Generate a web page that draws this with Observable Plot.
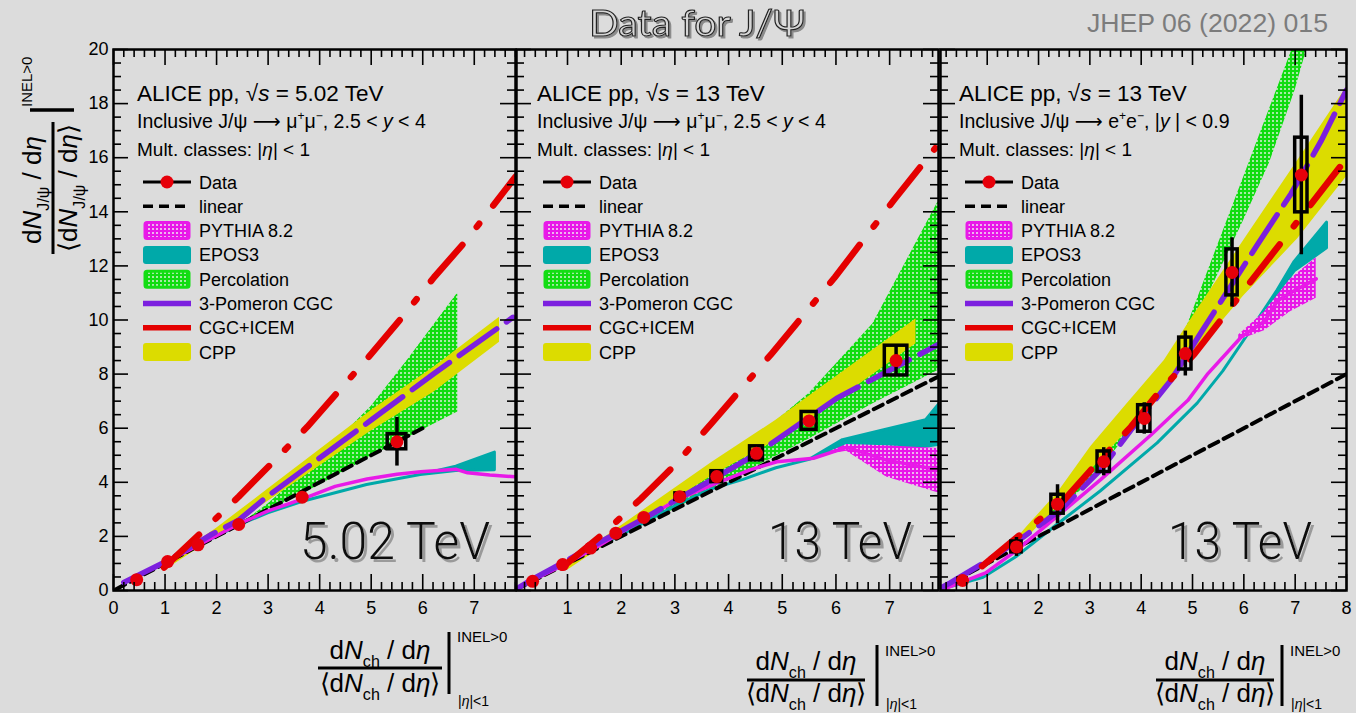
<!DOCTYPE html>
<html><head><meta charset="utf-8">
<script src="https://cdn.jsdelivr.net/npm/d3@7"></script>
<script src="https://cdn.jsdelivr.net/npm/@observablehq/plot@0.6"></script>
<style>
html,body{margin:0;padding:0;background:#dcdcdc;}
#wrap{position:relative;width:1356px;height:713px;background:#dcdcdc;overflow:hidden;}
#wrap svg{position:absolute;left:0;top:0;}
</style></head><body>
<svg width="0" height="0" style="position:absolute">
<defs>
<pattern id="patGreen" width="4" height="4" patternUnits="userSpaceOnUse">
<rect width="4" height="4" fill="#10dc10"/><rect x="0" y="0" width="2" height="2" fill="#a6eaa6"/>
</pattern>
<pattern id="patMag" width="4" height="4" patternUnits="userSpaceOnUse">
<rect width="4" height="4" fill="#e816e8"/><rect x="0" y="0" width="2" height="2" fill="#eeb4ee"/>
</pattern>
<filter id="shadow3" x="-5%" y="-10%" width="115%" height="130%">
<feDropShadow dx="3" dy="3" stdDeviation="0.6" flood-color="#9a9a9a" flood-opacity="1"/>
</filter>
<filter id="shadow2" x="-5%" y="-10%" width="115%" height="130%">
<feDropShadow dx="2" dy="2" stdDeviation="0.5" flood-color="#8a8a8a" flood-opacity="1"/>
</filter>
</defs></svg>
<div id="wrap"></div>
<script>
// ---------------- DATA ----------------
// Panel 1: pp 5.02 TeV, forward rapidity
const P1_DATA_X = [0.45, 1.05, 1.64, 2.43, 3.66, 5.50];
const P1_DATA_Y = [0.40, 1.07, 1.69, 2.44, 3.45, 5.50];
const P1_STAT   = [0, 0, 0, 0, 0, 0.90];
const P1_SYST   = [0, 0, 0, 0, 0, 0.28];
const P1_BOXW   = [0, 0, 0, 0, 0, 0.18];
const P1_LIN_X  = [0.05, 6.0];
const P1_EPOS_X  = [0.25, 1.05, 2.43, 3.0, 3.66, 4.92, 5.96, 6.65, 7.4];
const P1_EPOS_LO = [0.30, 1.05, 2.40, 2.85, 3.27, 3.90, 4.27, 4.42, 4.45];
const P1_EPOS_HI = [0.30, 1.05, 2.40, 2.85, 3.27, 3.90, 4.27, 4.58, 5.10];
const P1_PYT_X = [0.2, 1.05, 2.43, 3.0, 3.66, 4.3, 4.92, 5.5, 5.96, 6.65, 6.87, 7.3, 7.8];
const P1_PYT_Y = [0.31, 1.07, 2.46, 2.94, 3.38, 3.85, 4.12, 4.3, 4.39, 4.48, 4.35, 4.27, 4.2];
const P1_PERC_X  = [2.5, 3.0, 4.0, 5.0, 5.7, 6.68];
const P1_PERC_LO = [2.5, 2.95, 3.9, 4.95, 5.65, 6.6];
const P1_PERC_HI = [2.5, 3.2, 4.9, 6.8, 8.5, 11.0];
const P1_CPP_X  = [1.0, 2.0, 3.0, 4.0, 5.0, 6.22, 7.49];
const P1_CPP_LO = [0.75, 2.0, 3.3, 4.6, 5.9, 7.34, 9.18];
const P1_CPP_HI = [1.0, 2.3, 3.75, 5.2, 6.65, 8.26, 10.1];
const P1_CGC3_X = [0.2, 1.05, 1.88, 2.43, 2.98, 4.0, 5.0, 6.22, 7.75];
const P1_CGC3_Y = [0.3, 1.1, 2.05, 2.6, 3.47, 4.9, 6.3, 8.02, 10.1];
const P1_ICEM_X = [0.98, 1.68, 2.43, 3.08, 3.76, 5.03, 5.6, 6.22, 6.84, 7.8];
const P1_ICEM_Y = [0.85, 2.1, 3.47, 4.72, 6.05, 8.81, 10.1, 11.58, 12.93, 15.3];

// Panel 2: pp 13 TeV, forward rapidity
const P2_DATA_X = [0.35, 0.91, 1.43, 1.90, 2.42, 3.09, 3.78, 4.52, 5.50, 7.12];
const P2_DATA_Y = [0.34, 0.96, 1.57, 2.12, 2.70, 3.47, 4.21, 5.07, 6.27, 8.50];
const P2_STAT   = [0, 0, 0, 0, 0, 0.05, 0.10, 0.12, 0.15, 0.55];
const P2_SYST   = [0, 0, 0, 0, 0, 0.12, 0.20, 0.26, 0.33, 0.55];
const P2_BOXW   = [0, 0, 0, 0, 0, 0.08, 0.10, 0.12, 0.14, 0.21];
const P2_LIN_X  = [0.05, 7.91];
const P2_EPOS_X  = [0.15, 0.9, 2.4, 3.0, 3.66, 4.28, 4.89, 5.51, 6.13, 6.9, 7.68, 7.91];
const P2_EPOS_LO = [0.15, 0.88, 2.45, 3.1, 3.72, 4.09, 4.52, 4.83, 5.25, 5.3, 5.31, 5.38];
const P2_EPOS_HI = [0.15, 0.88, 2.45, 3.1, 3.72, 4.09, 4.52, 4.83, 5.56, 5.93, 6.3, 6.85];
const P2_PYT_X = [0.13, 0.88, 1.5, 2.42, 3.04, 3.78, 4.4, 4.9, 5.58, 6.2, 6.94, 7.91];
const P2_PYT_Y = [0.16, 0.9, 1.55, 2.64, 3.35, 3.97, 4.46, 4.76, 4.89, 5.29, 4.82, 4.46];
const P2_PYTB_X  = [5.9, 6.2, 6.94, 7.91];
const P2_PYTB_LO = [5.05, 5.15, 4.2, 3.6];
const P2_PYTB_HI = [5.15, 5.4, 5.35, 5.25];
const P2_PERC_X  = [2.4, 3.0, 4.0, 5.5, 6.69, 7.91];
const P2_PERC_LO = [2.45, 3.0, 4.05, 5.6, 6.9, 8.14];
const P2_PERC_HI = [2.7, 3.3, 4.8, 7.28, 9.86, 14.4];
const P2_CPP_X  = [1.0, 2.4, 3.7, 4.89, 5.51, 7.49];
const P2_CPP_LO = [0.75, 2.6, 4.25, 5.55, 6.3, 9.12];
const P2_CPP_HI = [1.0, 2.95, 4.75, 6.3, 7.2, 10.04];
const P2_CGC3_X = [0.1, 0.35, 0.91, 1.43, 1.9, 2.42, 3.09, 3.78, 4.52, 5.5, 6.01, 7.91];
const P2_CGC3_Y = [0.12, 0.42, 1.02, 1.6, 2.1, 2.66, 3.42, 4.2, 5.05, 6.4, 7.1, 9.1];
const P2_ICEM_X = [0.9, 1.68, 2.36, 2.98, 3.69, 4.8, 5.98, 7.09, 7.85];
const P2_ICEM_Y = [0.85, 2.12, 3.38, 4.6, 6.2, 8.75, 11.58, 14.46, 16.35];

// Panel 3: pp 13 TeV, midrapidity
const P3_DATA_X = [0.52, 1.57, 2.37, 3.27, 4.06, 4.86, 5.77, 7.12];
const P3_DATA_Y = [0.37, 1.61, 3.19, 4.76, 6.36, 8.76, 11.76, 15.36];
const P3_STAT   = [0.10, 0.35, 0.72, 0.52, 0.58, 0.83, 1.28, 2.95];
const P3_SYST   = [0.08, 0.20, 0.35, 0.38, 0.49, 0.59, 0.85, 1.38];
const P3_BOXW   = [0.08, 0.10, 0.12, 0.12, 0.12, 0.12, 0.11, 0.12];
const P3_LIN_X  = [0.09, 8.0];
const P3_EPOS_X  = [0.15, 0.93, 1.59, 2.37, 3.21, 4.32, 5.1, 5.6, 6.1, 6.66, 6.99, 7.62];
const P3_EPOS_LO = [0.05, 0.47, 1.26, 2.43, 3.66, 5.44, 6.91, 8.1, 9.5, 10.95, 11.8, 12.65];
const P3_EPOS_HI = [0.05, 0.47, 1.26, 2.43, 3.66, 5.44, 6.91, 8.1, 9.5, 11.1, 12.15, 13.6];
const P3_PYT_X = [0.15, 0.97, 1.59, 2.43, 3.21, 4.19, 4.91, 5.3, 5.95, 6.4, 6.66, 7.0, 7.41];
const P3_PYT_Y = [0.05, 0.65, 1.51, 2.85, 4.1, 5.75, 7.03, 8.02, 9.37, 9.95, 10.72, 11.1, 11.52];
const P3_PYTB_X  = [5.9, 6.4, 6.9, 7.41];
const P3_PYTB_LO = [9.25, 9.6, 10.3, 10.8];
const P3_PYTB_HI = [9.45, 10.3, 11.5, 12.3];
const P3_PERC_X  = [2.0, 3.0, 4.0, 4.9, 5.5, 6.0, 6.5, 7.0, 7.3];
const P3_PERC_LO = [2.3, 4.0, 6.4, 9.3, 11.7, 13.7, 15.8, 18.5, 20.5];
const P3_PERC_HI = [2.5, 4.4, 6.9, 9.8, 12.8, 15.3, 17.8, 20.3, 21.8];
const P3_CPP_X  = [1.5, 1.78, 2.37, 3.02, 3.73, 4.45, 5.04, 6.0, 7.05, 8.0];
const P3_CPP_LO = [1.6, 1.95, 3.1, 4.45, 5.9, 7.4, 8.75, 10.9, 13.0, 15.3];
const P3_CPP_HI = [1.75, 2.37, 3.6, 5.32, 6.91, 8.5, 10.23, 12.95, 15.9, 18.6];
const P3_CGC3_X = [0.1, 0.28, 0.93, 1.59, 2.43, 3.21, 3.8, 4.58, 5.17, 6.27, 6.92, 7.5, 8.0];
const P3_CGC3_Y = [0.1, 0.28, 1.02, 1.82, 2.98, 4.46, 5.93, 7.77, 9.55, 12.8, 14.67, 16.6, 18.5];
const P3_ICEM_X = [0.9, 1.68, 2.5, 3.08, 3.8, 4.35, 5.04, 7.96];
const P3_ICEM_Y = [0.9, 2.12, 3.35, 4.58, 6.05, 7.34, 8.75, 15.87];

// Ticks / labels
const Y_TICKS = [0, 2, 4, 6, 8, 10, 12, 14, 16, 18, 20];
const X_TICKS_P1 = [0, 1, 2, 3, 4, 5, 6, 7];
const X_TICKS_P2 = [1, 2, 3, 4, 5, 6, 7];
const X_TICKS_P3 = [1, 2, 3, 4, 5, 6, 7, 8];
const LEGEND_LABELS = ["Data", "linear", "PYTHIA 8.2", "EPOS3", "Percolation", "3-Pomeron CGC", "CGC+ICEM", "CPP"];
const ENERGY_LABELS = ["5.02 TeV", "13 TeV", "13 TeV"];
const SQRT_S = ["5.02", "13", "13"];

// ---------------- STYLE ----------------
const FONT = "'Liberation Sans', Arial, Helvetica, sans-serif";
const TEAL = "#00a9a9", MAG = "#e81ae8", GREEN = "#14dd14", PURPLE = "#7c20df",
      RED = "#e40000", YELLOW = "#dcdc00", DOT = "#e6000a";
const W = 1356, H = 713, MT = 49, MB = 123;

const xy = (xs, ys) => xs.map((x, i) => ({x, y: ys[i]}));
const band = (xs, lo, hi) => xs.map((x, i) => ({x, lo: lo[i], hi: hi[i]}));
const pts = (xs, ys, st, sy, bw) => xs.map((x, i) => ({x, y: ys[i], stat: st[i], syst: sy[i], bw: bw[i]}));

function panel(o) {
  const FW = W - o.ml - o.mr, FH = H - MT - MB;
  const [x0, x1] = o.xdom;
  const xMaj = d3.range(Math.ceil(x0), Math.floor(x1) + 1);
  const xMin = d3.range(Math.ceil(x0 * 5), Math.floor(x1 * 5) + 1).map(d => d / 5).filter(d => Math.abs(d - Math.round(d)) > 1e-6);
  const yMin = d3.range(0, 41).map(d => d / 2).filter(d => d % 2 !== 0);
  const data = o.points;
  const tickStyle = {stroke: "black", strokeWidth: 1.6};
  const marks = [
    Plot.areaY(o.perc, {x: "x", y1: "lo", y2: "hi", fill: "url(#patGreen)", clip: true}),
    Plot.areaY(o.epos, {x: "x", y1: "lo", y2: "hi", fill: TEAL, stroke: TEAL, strokeWidth: 3, strokeLinejoin: "round", clip: true}),
  ];
  if (o.pytb) marks.push(Plot.areaY(o.pytb, {x: "x", y1: "lo", y2: "hi", fill: "url(#patMag)", clip: true}));
  marks.push(
    Plot.areaY(o.cpp, {x: "x", y1: "lo", y2: "hi", fill: YELLOW, clip: true}),
    Plot.line(o.lin, {x: "x", y: "y", stroke: "black", strokeWidth: 4, strokeDasharray: "10,6", clip: true}),
    Plot.line(o.pyt, {x: "x", y: "y", stroke: MAG, strokeWidth: 3.5, clip: true}),
    Plot.line(o.cgc3, {x: "x", y: "y", stroke: PURPLE, strokeWidth: 5.5, strokeDasharray: "46,12", clip: true}),
    Plot.line(o.icem, {x: "x", y: "y", stroke: RED, strokeWidth: 6.5, strokeDasharray: "48,23,4,23", clip: true}),
    Plot.rect(data.filter(d => d.bw > 0), {x1: d => d.x - d.bw, x2: d => d.x + d.bw, y1: d => d.y - d.syst, y2: d => d.y + d.syst, fill: "none", stroke: "black", strokeWidth: 3.5}),
    Plot.ruleX(data.filter(d => d.stat > 0), {x: "x", y1: d => d.y - d.stat, y2: d => d.y + d.stat, stroke: "black", strokeWidth: 3.5}),
    Plot.dot(data, {x: "x", y: "y", r: 6.5, fill: DOT}),
    // ticks inside frame, all four sides
    Plot.tickX(xMaj, {x: d => d, insetTop: FH - 16, ...tickStyle}),
    Plot.tickX(xMin, {x: d => d, insetTop: FH - 8, ...tickStyle}),
    Plot.tickX(xMaj, {x: d => d, insetBottom: FH - 16, ...tickStyle}),
    Plot.tickX(xMin, {x: d => d, insetBottom: FH - 8, ...tickStyle}),
    Plot.tickY(Y_TICKS, {y: d => d, insetRight: FW - 15, ...tickStyle}),
    Plot.tickY(yMin, {y: d => d, insetRight: FW - 8, ...tickStyle}),
    Plot.tickY(Y_TICKS, {y: d => d, insetLeft: FW - 15, ...tickStyle}),
    Plot.tickY(yMin, {y: d => d, insetLeft: FW - 8, ...tickStyle}),
    Plot.frame({stroke: "black", strokeWidth: 2.5}),
    Plot.axisX(o.xticks, {anchor: "bottom", tickSize: 0, tickPadding: 11, fontSize: 18, label: null, tickFormat: d => String(d)})
  );
  if (o.yaxis) marks.push(Plot.axisY(Y_TICKS, {anchor: "left", tickSize: 0, tickPadding: 5, fontSize: 18, label: null, tickFormat: d => String(d)}));
  return Plot.plot({
    width: W, height: H, marginLeft: o.ml, marginRight: o.mr, marginTop: MT, marginBottom: MB,
    x: {domain: o.xdom, axis: null, label: null}, y: {domain: [0, 20], axis: null, label: null},
    style: {background: "transparent", fontFamily: FONT, fontSize: "18px", color: "black", overflow: "visible"},
    marks
  });
}

const wrap = document.getElementById("wrap");
const panels = [
  {ml: 113, mr: W - 515, xdom: [0, 7.8], xticks: X_TICKS_P1, yaxis: true,
   points: pts(P1_DATA_X, P1_DATA_Y, P1_STAT, P1_SYST, P1_BOXW),
   lin: xy(P1_LIN_X, P1_LIN_X), epos: band(P1_EPOS_X, P1_EPOS_LO, P1_EPOS_HI),
   pyt: xy(P1_PYT_X, P1_PYT_Y), pytb: null, perc: band(P1_PERC_X, P1_PERC_LO, P1_PERC_HI),
   cpp: band(P1_CPP_X, P1_CPP_LO, P1_CPP_HI), cgc3: xy(P1_CGC3_X, P1_CGC3_Y), icem: xy(P1_ICEM_X, P1_ICEM_Y)},
  {ml: 516, mr: W - 938, xdom: [0.05, 7.91], xticks: X_TICKS_P2, yaxis: false,
   points: pts(P2_DATA_X, P2_DATA_Y, P2_STAT, P2_SYST, P2_BOXW),
   lin: xy(P2_LIN_X, P2_LIN_X), epos: band(P2_EPOS_X, P2_EPOS_LO, P2_EPOS_HI),
   pyt: xy(P2_PYT_X, P2_PYT_Y), pytb: band(P2_PYTB_X, P2_PYTB_LO, P2_PYTB_HI), perc: band(P2_PERC_X, P2_PERC_LO, P2_PERC_HI),
   cpp: band(P2_CPP_X, P2_CPP_LO, P2_CPP_HI), cgc3: xy(P2_CGC3_X, P2_CGC3_Y), icem: xy(P2_ICEM_X, P2_ICEM_Y)},
  {ml: 940, mr: W - 1346, xdom: [0.09, 8.0], xticks: X_TICKS_P3, yaxis: false,
   points: pts(P3_DATA_X, P3_DATA_Y, P3_STAT, P3_SYST, P3_BOXW),
   lin: xy(P3_LIN_X, P3_LIN_X), epos: band(P3_EPOS_X, P3_EPOS_LO, P3_EPOS_HI),
   pyt: xy(P3_PYT_X, P3_PYT_Y), pytb: band(P3_PYTB_X, P3_PYTB_LO, P3_PYTB_HI), perc: band(P3_PERC_X, P3_PERC_LO, P3_PERC_HI),
   cpp: band(P3_CPP_X, P3_CPP_LO, P3_CPP_HI), cgc3: xy(P3_CGC3_X, P3_CGC3_Y), icem: xy(P3_ICEM_X, P3_ICEM_Y)}
];
panels.forEach(p => wrap.appendChild(panel(p)));

// ---------------- OVERLAY TEXT ----------------
const ov = d3.select(wrap).append("svg").attr("width", W).attr("height", H)
  .style("font-family", FONT).style("pointer-events", "none");

function rich(g, x, y, parts, size, anchor = "start") {
  const t = g.append("text").attr("x", x).attr("y", y).attr("font-size", size)
    .attr("text-anchor", anchor).attr("fill", "#000");
  let shift = 0;
  for (const p of parts) {
    const s = Array.isArray(p) ? p[0] : p;
    const o = (Array.isArray(p) && p[1]) ? p[1] : {};
    const target = o.sup ? -0.42 * size : o.sub ? 0.3 * size : 0;
    const ts = t.append("tspan").text(s).attr("dy", target - shift);
    shift = target;
    if (o.sup || o.sub) ts.attr("font-size", size * 0.62);
    if (o.i) ts.attr("font-style", "italic");
    if (o.f) ts.attr("font-family", o.f);
  }
  return t;
}

// Title & reference
const TF = "Lato, 'DejaVu Sans', sans-serif";
ov.append("text").attr("x", 697).attr("y", 36).attr("text-anchor", "middle")
  .attr("font-family", TF).attr("font-size", 36)
  .attr("textLength", 216).attr("lengthAdjust", "spacingAndGlyphs")
  .attr("fill", "#d6d6d6").attr("stroke", "#222").attr("stroke-width", 1.1)
  .attr("filter", "url(#shadow2)").text("Data for J/Ψ");
ov.append("text").attr("x", 1328).attr("y", 32).attr("text-anchor", "end")
  .attr("font-size", 26).attr("textLength", 241).attr("lengthAdjust", "spacingAndGlyphs")
  .attr("fill", "#7c7c7c").text("JHEP 06 (2022) 015");

// Panel headers and legends
const OFFS = [0, 400, 822];
const ARROW = {f: "'DejaVu Sans', sans-serif"};
const INCL = [
  [["Inclusive J/ψ "], ["⟶", ARROW], [" μ"], ["+", {sup: true}], ["μ"], ["−", {sup: true}], [", 2.5 < "], ["y", {i: true}], [" < 4"]],
  [["Inclusive J/ψ "], ["⟶", ARROW], [" μ"], ["+", {sup: true}], ["μ"], ["−", {sup: true}], [", 2.5 < "], ["y", {i: true}], [" < 4"]],
  [["Inclusive J/ψ "], ["⟶", ARROW], [" e"], ["+", {sup: true}], ["e"], ["−", {sup: true}], [", |"], ["y", {i: true}], [" | < 0.9"]]
];
OFFS.forEach((ox, k) => {
  const g = ov.append("g");
  rich(g, 137 + ox, 101, [["ALICE pp, √"], ["s", {i: true}], [" = " + SQRT_S[k] + " TeV"]], 22.5);
  rich(g, 137 + ox, 128, INCL[k], 19.5);
  rich(g, 137 + ox, 156, [["Mult. classes: |"], ["η", {i: true}], ["| < 1"]], 19);
  const sx = 143 + ox, ex = 191 + ox;
  LEGEND_LABELS.forEach((lab, i) => {
    const cy = 182 + i * 24.3;
    if (i === 0) {
      g.append("line").attr("x1", sx).attr("x2", ex).attr("y1", cy).attr("y2", cy).attr("stroke", "black").attr("stroke-width", 3);
      g.append("circle").attr("cx", (sx + ex) / 2).attr("cy", cy).attr("r", 6.5).attr("fill", DOT);
    } else if (i === 1) {
      g.append("line").attr("x1", sx).attr("x2", ex).attr("y1", cy).attr("y2", cy).attr("stroke", "black").attr("stroke-width", 3.5).attr("stroke-dasharray", "10,6");
    } else if (i === 2 || i === 4) {
      g.append("rect").attr("x", sx + 2).attr("y", cy - 8).attr("width", ex - sx - 4).attr("height", 16).attr("rx", 2)
        .attr("fill", i === 2 ? "url(#patMag)" : "url(#patGreen)").attr("stroke", i === 2 ? MAG : GREEN).attr("stroke-width", 3);
    } else if (i === 3 || i === 7) {
      g.append("rect").attr("x", sx).attr("y", cy - 9).attr("width", ex - sx).attr("height", 18).attr("rx", 3)
        .attr("fill", i === 3 ? TEAL : YELLOW);
    } else {
      g.append("line").attr("x1", sx).attr("x2", ex).attr("y1", cy).attr("y2", cy).attr("stroke", i === 5 ? PURPLE : RED).attr("stroke-width", 5.5);
    }
    g.append("text").attr("x", 199 + ox).attr("y", cy + 6.5).attr("font-size", 18).attr("fill", "#000").text(lab);
  });
});

// Energy labels (thin face, drop shadow)
const EN_X = [490, 912, 1312];
const EN_W = [190, 144, 144];
EN_X.forEach((x, k) => {
  ov.append("text").attr("x", x).attr("y", 559).attr("text-anchor", "end")
    .attr("font-family", "Roboto, Lato, sans-serif").attr("font-weight", 300)
    .attr("font-size", 52).attr("textLength", EN_W[k]).attr("lengthAdjust", "spacingAndGlyphs")
    .attr("fill", "#111").attr("filter", "url(#shadow3)").text(ENERGY_LABELS[k]);
});

// X axis titles
function xTitle(cx, yNum, yBar, half, yDen, vx, vy1, vy2, supY, subY) {
  rich(ov, cx, yNum, [["d"], ["N", {i: true}], ["ch", {sub: true}], [" / d"], ["η", {i: true}]], 26, "middle");
  ov.append("line").attr("x1", cx - half).attr("x2", cx + half).attr("y1", yBar).attr("y2", yBar).attr("stroke", "#000").attr("stroke-width", 3);
  rich(ov, cx, yDen, [["⟨d"], ["N", {i: true}], ["ch", {sub: true}], [" / d"], ["η", {i: true}], ["⟩"]], 26, "middle");
  ov.append("line").attr("x1", vx).attr("x2", vx).attr("y1", vy1).attr("y2", vy2).attr("stroke", "#000").attr("stroke-width", 3);
  ov.append("text").attr("x", vx + 8).attr("y", supY).attr("font-size", 15).text("INEL>0");
  rich(ov, vx + 9, subY, [["|"], ["η", {i: true}], ["|<1"]], 14);
}
xTitle(380, 659, 668, 62, 692, 449, 632, 694, 642, 706);
xTitle(806, 670, 680, 59, 702, 877, 645, 706, 656, 709);
xTitle(1215, 670, 680, 59, 702, 1282, 645, 706, 656, 709);

// Y axis title (rotated)
const yg = ov.append("g");
rich(yg.append("g").attr("transform", "translate(41,190) rotate(-90)"), 0, 0,
  [["d"], ["N", {i: true}], ["J/ψ", {sub: true}], [" / d"], ["η", {i: true}]], 26, "middle");
yg.append("line").attr("x1", 53).attr("x2", 53).attr("y1", 122).attr("y2", 254).attr("stroke", "#000").attr("stroke-width", 3);
rich(yg.append("g").attr("transform", "translate(77,188) rotate(-90)"), 0, 0,
  [["⟨d"], ["N", {i: true}], ["J/ψ", {sub: true}], [" / d"], ["η", {i: true}], ["⟩"]], 26, "middle");
yg.append("line").attr("x1", 30).attr("x2", 74).attr("y1", 110).attr("y2", 110).attr("stroke", "#000").attr("stroke-width", 3.5);
yg.append("g").attr("transform", "translate(32,107) rotate(-90)").append("text")
  .attr("font-size", 15).text("INEL>0");
</script>
</body></html>
